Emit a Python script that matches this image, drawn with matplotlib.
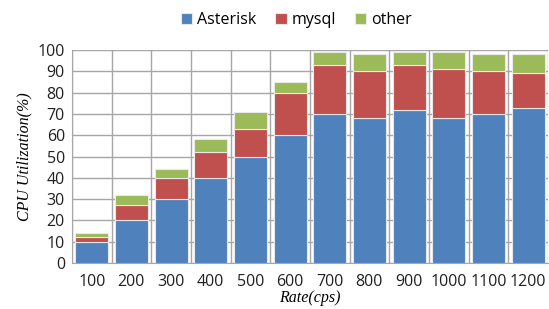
import numpy as np
import matplotlib.pyplot as plt

## the data
rates = ['100', '200', '300', '400', '500', '600', '700', '800', '900', '1000', '1100', '1200']
asterisk = [10, 20, 30, 40, 50, 60, 70, 68, 72, 68, 70, 73]
mysql = [2, 7, 10, 12, 13, 20, 23, 22, 21, 23, 20, 16]
other = [2, 5, 4, 6, 8, 5, 6, 8, 6, 8, 8, 9]

fig = plt.figure(figsize=(5.49, 3.09), dpi=100)
ax = fig.add_axes([0.131, 0.149, 0.867, 0.689])

ind = np.arange(len(rates))
width = 0.83
bottom2 = np.array(asterisk) + np.array(mysql)

edge = dict(edgecolor='#e8e8e8', linewidth=0.8, zorder=3)
b1 = ax.bar(ind, asterisk, width, color='#4F81BD', label='Asterisk', **edge)
b2 = ax.bar(ind, mysql, width, bottom=asterisk, color='#C0504D', label='mysql', **edge)
b3 = ax.bar(ind, other, width, bottom=bottom2, color='#9BBB59', label='other', **edge)

# axes and grid
ax.set_xlim(-0.5, len(rates) - 0.5)
ax.set_ylim(0, 100)
ax.set_yticks(np.arange(0, 101, 10))
ax.set_xticks(ind)
ax.set_xticklabels(rates)
ax.set_xticks(np.arange(-0.5, len(rates), 1), minor=True)
ax.grid(True, which='major', axis='y', color='#a6a6a6', linewidth=1.0, zorder=0)
ax.grid(True, which='minor', axis='x', color='#a6a6a6', linewidth=1.0, zorder=0)
ax.set_axisbelow(True)
ax.tick_params(axis='both', which='both', length=0, labelsize=11.5, colors='#202020')
ax.tick_params(axis='x', pad=8)
ax.tick_params(axis='y', pad=5)
for s in ['top', 'right']:
    ax.spines[s].set_visible(False)
for s in ['left', 'bottom']:
    ax.spines[s].set_color('#a6a6a6')
for lab in ax.get_xticklabels() + ax.get_yticklabels():
    lab.set_fontfamily('Open Sans')

ax.set_ylabel('CPU Utilization(%)', fontfamily='Liberation Serif', style='italic',
              fontsize=11.5, labelpad=4)
ax.set_xlabel('Rate(cps)', fontfamily='Liberation Serif', style='italic',
              fontsize=11.5, labelpad=0)

## add a legend
fig.legend((b1[0], b2[0], b3[0]), ('Asterisk', 'mysql', 'other'), loc='center',
           bbox_to_anchor=(0.54, 0.935), ncol=3, frameon=False,
           prop={'family': 'Open Sans', 'size': 11.5}, handlelength=0.7,
           handleheight=0.7, handletextpad=0.3, columnspacing=1.2)

fig.savefig('out.png', dpi=100)
